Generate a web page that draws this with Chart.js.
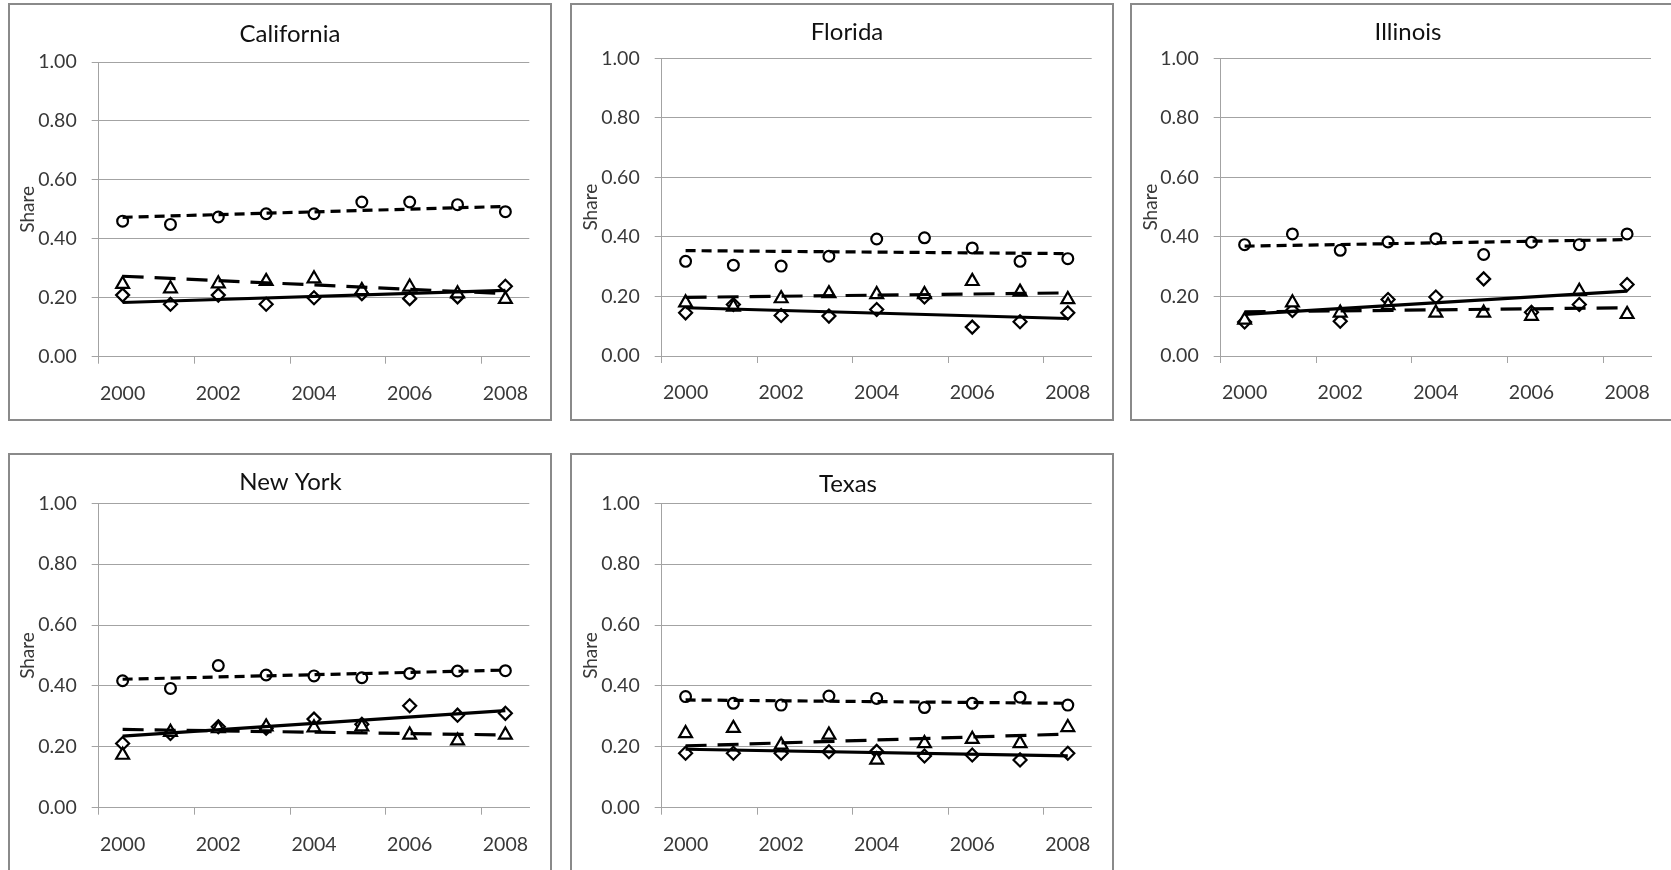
<!DOCTYPE html>
<html>
<head>
<meta charset="utf-8">
<script src="https://cdn.jsdelivr.net/npm/chart.js@4.4.0/dist/chart.umd.min.js"></script>
<style>
  body { margin: 0; background: #fff; width: 1671px; height: 870px; overflow: hidden; position: relative; }
  .panel { position: absolute; border: 2px solid #8a8a8a; width: 540px; }
  .panel canvas { display: block; }
</style>
</head>
<body>
<div class="panel" style="left:8px;top:3px;height:414px"><canvas id="ca" width="560" height="414"></canvas></div>
<div class="panel" style="left:570px;top:3px;height:414px"><canvas id="fl" width="550" height="414"></canvas></div>
<div class="panel" style="left:1130px;top:3px;height:414px"><canvas id="il" width="552" height="414"></canvas></div>
<div class="panel" style="left:8px;top:453px;height:420px"><canvas id="ny" width="561" height="420"></canvas></div>
<div class="panel" style="left:570px;top:453px;height:420px"><canvas id="tx" width="552" height="420"></canvas></div>
<script>
const years = ['2000', '2001', '2002', '2003', '2004', '2005', '2006', '2007', '2008'];
const yearLabels = ['2000', '2002', '2004', '2006', '2008'];
const shareTicks = [0, 0.2, 0.4, 0.6, 0.8, 1];

// California
const caCircles   = [0.460, 0.449, 0.474, 0.485, 0.485, 0.525, 0.525, 0.516, 0.492];
const caTriangles = [0.246, 0.231, 0.248, 0.256, 0.265, 0.225, 0.237, 0.214, 0.195];
const caDiamonds  = [0.209, 0.178, 0.209, 0.178, 0.200, 0.214, 0.197, 0.203, 0.239];
const caCircleTrend   = [0.473, 0.510];
const caTriangleTrend = [0.273, 0.214];
const caDiamondTrend  = [0.184, 0.225];

// Florida
const flCircles   = [0.318, 0.305, 0.302, 0.335, 0.393, 0.397, 0.363, 0.318, 0.327];
const flTriangles = [0.179, 0.165, 0.193, 0.210, 0.207, 0.207, 0.251, 0.215, 0.190];
const flDiamonds  = [0.145, 0.173, 0.136, 0.134, 0.156, 0.198, 0.097, 0.115, 0.145];
const flCircleTrend   = [0.354, 0.344];
const flTriangleTrend = [0.197, 0.212];
const flDiamondTrend  = [0.162, 0.126];

// Illinois
const ilCircles   = [0.374, 0.410, 0.355, 0.383, 0.394, 0.341, 0.382, 0.374, 0.410];
const ilTriangles = [0.121, 0.179, 0.145, 0.170, 0.145, 0.145, 0.134, 0.218, 0.140];
const ilDiamonds  = [0.114, 0.153, 0.117, 0.190, 0.198, 0.259, 0.147, 0.173, 0.240];
const ilCircleTrend   = [0.369, 0.391];
const ilTriangleTrend = [0.148, 0.162];
const ilDiamondTrend  = [0.140, 0.218];

// New York
const nyCircles   = [0.417, 0.392, 0.467, 0.436, 0.433, 0.427, 0.441, 0.449, 0.450];
const nyTriangles = [0.173, 0.248, 0.260, 0.266, 0.263, 0.266, 0.239, 0.220, 0.239];
const nyDiamonds  = [0.211, 0.244, 0.266, 0.261, 0.291, 0.274, 0.335, 0.304, 0.310];
const nyCircleTrend   = [0.422, 0.452];
const nyTriangleTrend = [0.257, 0.239];
const nyDiamondTrend  = [0.235, 0.319];

// Texas
const txCircles   = [0.365, 0.343, 0.337, 0.367, 0.359, 0.329, 0.343, 0.363, 0.337];
const txTriangles = [0.244, 0.261, 0.206, 0.239, 0.157, 0.211, 0.225, 0.211, 0.264];
const txDiamonds  = [0.179, 0.179, 0.179, 0.184, 0.185, 0.170, 0.173, 0.157, 0.179];
const txCircleTrend   = [0.354, 0.343];
const txTriangleTrend = [0.203, 0.242];
const txDiamondTrend  = [0.192, 0.170];

const FONT = 'Lato';
const TEXT = '#383838';
const GRID = '#a3a3a3';

// trend line only has its two end values, the gap in between is spanned
function trend(pair, dash) {
  return {
    data: years.map((y, i) => i === 0 ? pair[0] : (i === years.length - 1 ? pair[1] : null)),
    spanGaps: true,
    borderColor: '#000',
    borderWidth: 3.2,
    borderDash: dash,
    pointRadius: 0,
    order: 0
  };
}

function marks(values, style, radius) {
  return {
    data: values,
    showLine: false,
    pointStyle: style,
    pointRadius: radius,
    pointBorderWidth: 2.2,
    pointBorderColor: '#000',
    pointBackgroundColor: '#fff',
    order: 1
  };
}

function makePanel(id, name, circles, triangles, diamonds, cTrend, tTrend, dTrend, box) {
  const tickFont = { family: FONT, size: 19.5 };
  return new Chart(document.getElementById(id), {
    type: 'line',
    data: {
      labels: years,
      datasets: [
        trend(cTrend, [10, 6]),
        trend(tTrend, [21, 11]),
        trend(dTrend, []),
        marks(circles, 'circle', 5.4),
        marks(triangles, 'triangle', 7.4),
        marks(diamonds, 'rectRot', 6.5)
      ]
    },
    options: {
      responsive: false,
      animation: false,
      devicePixelRatio: 1,
      events: [],
      layout: { padding: { left: 0, right: 0, top: 0, bottom: box.pb } },
      plugins: {
        legend: { display: false },
        tooltip: { enabled: false },
        title: {
          display: true,
          text: name,
          color: '#111',
          font: { family: FONT, size: 24, weight: 'normal' },
          padding: { top: box.tt, bottom: box.tb }
        }
      },
      scales: {
        x: {
          offset: true,
          grid: {
            offset: true,
            drawOnChartArea: false,
            drawTicks: true,
            tickLength: 7,
            color: ctx => ctx.index % 2 === 0 ? GRID : 'transparent'
          },
          border: { color: GRID },
          ticks: {
            autoSkip: false,
            maxRotation: 0,
            padding: 18,
            color: TEXT,
            font: tickFont,
            callback: function (v) {
              const l = this.getLabelForValue(v);
              return yearLabels.includes(l) ? l : '';
            }
          },
          afterFit: s => { s.height = 60; }
        },
        y: {
          min: 0,
          max: 1,
          afterBuildTicks: s => { s.ticks = shareTicks.map(v => ({ value: v })); },
          ticks: { padding: 15, color: TEXT, font: tickFont, callback: v => v.toFixed(2) },
          grid: { color: GRID, tickLength: 7 },
          border: { color: GRID },
          title: {
            display: true,
            text: 'Share',
            color: TEXT,
            font: { family: FONT, size: 19 },
            padding: { top: box.st, bottom: 0 }
          },
          afterFit: s => { s.width = box.yw; }
        },
        // empty right-hand box, only there so the title sits where it does in the original
        yr: {
          position: 'right',
          grid: { display: false, drawTicks: false },
          border: { display: false },
          ticks: { display: false },
          afterFit: s => { s.width = box.rb; }
        }
      }
    }
  });
}

makePanel('ca', 'California', caCircles, caTriangles, caDiamonds, caCircleTrend, caTriangleTrend, caDiamondTrend,
  { yw: 88.7, rb: 40.7, pb: 2.3, tt: 15, tb: 13.2, st: 6.6 });
makePanel('fl', 'Florida', flCircles, flTriangles, flDiamonds, flCircleTrend, flTriangleTrend, flDiamondTrend,
  { yw: 89.7, rb: 30.3, pb: 3, tt: 13.2, tb: 11.3, st: 7.6 });
makePanel('il', 'Illinois', ilCircles, ilTriangles, ilDiamonds, ilCircleTrend, ilTriangleTrend, ilDiamondTrend,
  { yw: 88.7, rb: 33, pb: 3, tt: 13.2, tb: 11.3, st: 7.1 });
makePanel('ny', 'New York', nyCircles, nyTriangles, nyDiamonds, nyCircleTrend, nyTriangleTrend, nyDiamondTrend,
  { yw: 88.7, rb: 41.7, pb: 7.3, tt: 13.2, tb: 6.3, st: 6.6 });
makePanel('tx', 'Texas', txCircles, txTriangles, txDiamonds, txCircleTrend, txTriangleTrend, txDiamondTrend,
  { yw: 89.7, rb: 32.3, pb: 7.3, tt: 15.2, tb: 4.3, st: 7.4 });
</script>
</body>
</html>
